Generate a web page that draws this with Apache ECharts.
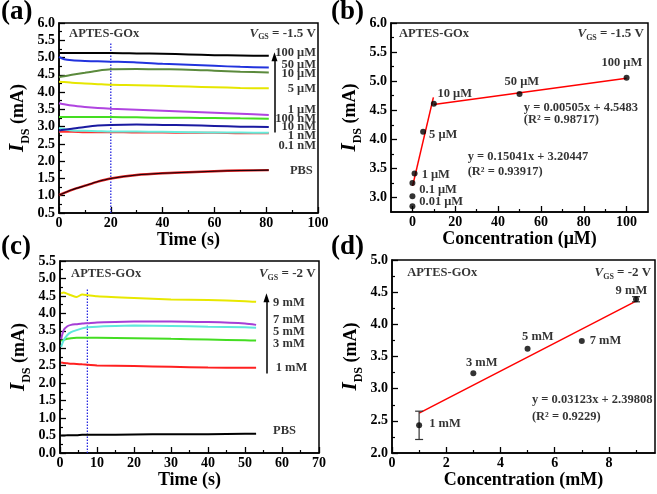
<!DOCTYPE html>
<html><head><meta charset="utf-8">
<script src="https://cdn.jsdelivr.net/npm/echarts@6/dist/echarts.min.js"></script>
<style>html,body{margin:0;padding:0;background:#fff}#c{width:657px;height:494px}</style>
</head><body><div id="c"></div>
<script>
// ================= DATA =================
// Panel (a): IDS vs time, VGS = -1.5 V
const aTime   = [0, 2, 5, 10, 15, 20, 30, 40, 50, 60, 70, 81];
const a100uM  = [5.13,5.13,5.13,5.13,5.13,5.13,5.12,5.11,5.09,5.07,5.06,5.05];
const a50uM   = [5.02,4.95,4.92,4.90,4.89,4.88,4.86,4.82,4.79,4.76,4.73,4.71];
const a10uM   = [4.44,4.46,4.50,4.56,4.62,4.66,4.67,4.66,4.65,4.62,4.59,4.57];
const a5uM    = [4.30,4.29,4.27,4.25,4.23,4.21,4.20,4.18,4.16,4.14,4.12,4.11];
const a1uM    = [3.68,3.65,3.61,3.57,3.54,3.52,3.49,3.46,3.43,3.40,3.37,3.34];
const a100nM  = [3.28,3.28,3.28,3.28,3.28,3.28,3.27,3.26,3.26,3.25,3.24,3.23];
const a10nM   = [2.89,2.91,2.94,2.99,3.03,3.05,3.06,3.05,3.04,3.02,3.00,2.99];
const a1nM    = [2.96,2.93,2.89,2.88,2.87,2.86,2.86,2.85,2.84,2.83,2.83,2.82];
const a01nM   = [2.85,2.85,2.85,2.84,2.84,2.84,2.83,2.83,2.82,2.82,2.81,2.81];
const aPBS    = [1.02,1.08,1.17,1.29,1.41,1.50,1.60,1.65,1.68,1.71,1.73,1.74];
const aMarkT  = [20, 20];          // dotted marker line (time)
const aMarkI  = [0.5, 5.43];
const aArrowT = 83.2;
const aArrowI = [2.83, 5.02];
const aLabelText = ['100 μM','50 μM','10 μM','5 μM','1 μM','100 nM','10 nM','1 nM','0.1 nM','PBS'];
const aLabelI    = [5.13, 4.80, 4.52, 4.10, 3.50, 3.24, 3.01, 2.75, 2.46, 1.71];

// Panel (b): IDS vs concentration (μM)
const bConc = [0, 0, 0, 1, 5, 10, 50, 100];
const bIds  = [2.85, 3.02, 3.25, 3.41, 4.13, 4.61, 4.78, 5.06];
const bFit1 = [[0.1, 3.20], [9.8, 4.72]];
const bFit2 = [[10, 4.60], [100, 5.05]];

// Panel (c): IDS vs time, VGS = -2 V
const cTime  = [0.3, 1, 2, 3, 4.5, 6, 7.5, 10, 20, 30, 40, 50, 53];
const c9mM   = [4.57,4.60,4.56,4.52,4.47,4.54,4.52,4.49,4.44,4.40,4.38,4.35,4.33];
const c7mM   = [3.26,3.52,3.63,3.67,3.69,3.71,3.72,3.74,3.77,3.77,3.75,3.71,3.67];
const c5mM   = [3.04,3.23,3.38,3.46,3.52,3.57,3.60,3.62,3.65,3.64,3.62,3.60,3.59];
const c3mM   = [3.21,3.24,3.27,3.29,3.30,3.30,3.30,3.30,3.29,3.27,3.25,3.23,3.22];
const c1mM   = [2.59,2.58,2.57,2.56,2.55,2.54,2.53,2.51,2.49,2.47,2.45,2.44,2.44];
const cPBS   = [0.50,0.50,0.51,0.51,0.51,0.52,0.52,0.52,0.53,0.54,0.54,0.55,0.55];
const cMarkT = [7.4, 7.4];
const cMarkI = [0.0, 4.69];
const cArrowT = 55.8;
const cArrowI = [2.28, 4.45];
const cLabelText = ['9 mM','7 mM','5 mM','3 mM','1 mM','PBS'];
const cLabelI    = [4.31, 3.81, 3.47, 3.14, 2.43, 0.64];

// Panel (d): IDS vs concentration (mM)
const dConc   = [1, 3, 5, 7, 9];
const dIds    = [2.43, 3.24, 3.62, 3.74, 4.39];
const dErrLo  = [2.21, null, null, null, 4.35];
const dErrHi  = [2.65, null, null, null, 4.43];
const dFit    = [[1, 2.62], [9, 4.36]];

// Tick values
const aXTicks = [0,20,40,60,80,100],  aXMinor = [10,30,50,70,90];
const aYTicks = [0.5,1.0,1.5,2.0,2.5,3.0,3.5,4.0,4.5,5.0,5.5,6.0];
const aYMinor = [0.75,1.25,1.75,2.25,2.75,3.25,3.75,4.25,4.75,5.25,5.75];
const bXTicks = [0,20,40,60,80,100],  bXMinor = [10,30,50,70,90];
const bYTicks = [3.0,3.5,4.0,4.5,5.0,5.5,6.0];
const bYMinor = [3.25,3.75,4.25,4.75,5.25,5.75];
const cXTicks = [0,10,20,30,40,50,60,70], cXMinor = [5,15,25,35,45,55,65];
const cYTicks = [0.0,0.5,1.0,1.5,2.0,2.5,3.0,3.5,4.0,4.5,5.0,5.5];
const cYMinor = [0.25,0.75,1.25,1.75,2.25,2.75,3.25,3.75,4.25,4.75,5.25];
const dXTicks = [0,2,4,6,8], dXMinor = [1,3,5,7,9];
const dYTicks = [2.0,2.5,3.0,3.5,4.0,4.5,5.0];
const dYMinor = [2.25,2.75,3.25,3.75,4.25,4.75];

// ================= CHART =================
const FF = '"Liberation Serif","Times New Roman",serif';
const zip = (xs, ys) => xs.map((x, i) => [x, ys[i]]);
const oneDec = v => Number(v).toFixed(1);
const intFmt = v => String(Math.round(v));

const nameRich = {
  i: {fontFamily: FF, fontWeight: 'bold', fontStyle: 'italic', fontSize: 21, lineHeight: 28, color: '#000'},
  s: {fontFamily: FF, fontWeight: 'bold', fontSize: 12, lineHeight: 13, verticalAlign: 'bottom', color: '#000'},
  n: {fontFamily: FF, fontWeight: 'bold', fontSize: 18, lineHeight: 28, color: '#000'}
};
const textRich = {
  vi: {fontFamily: FF, fontWeight: 'bold', fontStyle: 'italic', fontSize: 13, lineHeight: 16, color: '#000'},
  vs: {fontFamily: FF, fontWeight: 'bold', fontSize: 8, lineHeight: 9, verticalAlign: 'bottom', color: '#000'},
  vt: {fontFamily: FF, fontWeight: 'bold', fontSize: 13, lineHeight: 16, color: '#000'}
};

const grids = [
  {left: 59, top: 23, width: 259, height: 190},
  {left: 391, top: 23, width: 257, height: 189},
  {left: 60, top: 261, width: 259, height: 192},
  {left: 392, top: 260, width: 263, height: 193}
];
const axSpec = [
  {x: {min: 0, max: 100, t: aXTicks, m: aXMinor, f: intFmt, name: 'Time (s)'},
   y: {min: 0.5, max: 6.0, t: aYTicks, m: aYMinor, f: oneDec}},
  {x: {min: -10, max: 110, t: bXTicks, m: bXMinor, f: intFmt, name: 'Concentration (μM)'},
   y: {min: 2.75, max: 6.0, t: bYTicks, m: bYMinor, f: oneDec}},
  {x: {min: 0, max: 70, t: cXTicks, m: cXMinor, f: intFmt, name: 'Time (s)'},
   y: {min: 0, max: 5.5, t: cYTicks, m: cYMinor, f: oneDec}},
  {x: {min: 0, max: 9.7, t: dXTicks, m: dXMinor, f: intFmt, name: 'Concentration (mM)'},
   y: {min: 2.0, max: 5.0, t: dYTicks, m: dYMinor, f: oneDec}}
];

const xAxes = [], yAxes = [];
axSpec.forEach((p, g) => {
  ['x', 'y'].forEach(d => {
    const s = p[d];
    const major = {
      type: 'value', gridIndex: g, min: s.min, max: s.max,
      position: d === 'x' ? 'bottom' : 'left',
      axisLine: {show: true, onZero: false, lineStyle: {color: '#000', width: 1.5}},
      axisTick: {show: true, inside: true, length: 6, customValues: s.t, lineStyle: {color: '#000', width: 1.3}},
      axisLabel: {show: true, customValues: s.t, formatter: s.f, margin: d === 'x' ? 3 : 4,
        fontFamily: FF, fontWeight: 'bold', fontSize: 14, color: '#000'},
      splitLine: {show: false}
    };
    if (d === 'x') {
      major.name = s.name; major.nameLocation = 'middle'; major.nameGap = 17;
      major.nameTextStyle = {fontFamily: FF, fontWeight: 'bold', fontSize: 18, color: '#000'};
    } else {
      major.name = '{i|I}{s|DS}{n| (mA)}'; major.nameLocation = 'middle'; major.nameGap = 27;
      major.nameTextStyle = {rich: nameRich};
    }
    const minor = {
      type: 'value', gridIndex: g, min: s.min, max: s.max,
      position: d === 'x' ? 'bottom' : 'left',
      axisLine: {show: false, onZero: false},
      axisTick: {show: true, inside: true, length: 3, customValues: s.m, lineStyle: {color: '#000', width: 1.2}},
      axisLabel: {show: false},
      splitLine: {show: false}
    };
    (d === 'x' ? xAxes : yAxes).push(major, minor);
  });
});

const series = [];
function line(g, data, color, width) {
  series.push({type: 'line', xAxisIndex: 2 * g, yAxisIndex: 2 * g, data, symbol: 'none',
    smooth: 0.25, lineStyle: {color, width: width || 2}, silent: true, animation: false});
}
function dotted(g, xs, ys) {
  series.push({type: 'line', xAxisIndex: 2 * g, yAxisIndex: 2 * g, data: zip(xs, ys), symbol: 'none',
    lineStyle: {color: '#2626e0', width: 1.3, type: [1.5, 1.5]}, silent: true, animation: false});
}
function arrow(g, x, ys) {
  series.push({type: 'line', xAxisIndex: 2 * g, yAxisIndex: 2 * g, data: [], silent: true, animation: false,
    markLine: {silent: true, animation: false, symbol: ['none', 'triangle'], symbolSize: [6, 9],
      label: {show: false}, lineStyle: {color: '#000', width: 1.5, type: 'solid'},
      data: [[{coord: [x, ys[0]]}, {coord: [x, ys[1]]}]]}});
}
function texts(g, items, align) {
  series.push({type: 'scatter', xAxisIndex: 2 * g, yAxisIndex: 2 * g, symbolSize: 0.1, silent: true, animation: false,
    itemStyle: {color: 'transparent'},
    label: {show: true, position: 'inside', align: align, verticalAlign: 'middle', formatter: '{b}',
      fontFamily: FF, fontWeight: 'bold', fontSize: 12.5, color: '#000', rich: textRich},
    data: items.map(it => ({name: it[0], value: [it[1], it[2]]}))});
}
function points(g, xs, ys) {
  series.push({type: 'scatter', xAxisIndex: 2 * g, yAxisIndex: 2 * g, data: zip(xs, ys), symbol: 'circle',
    symbolSize: 6, itemStyle: {color: '#000'}, silent: true, animation: false, z: 5});
}

// ---- (a)
dotted(0, aMarkT, aMarkI);
line(0, zip(aTime, aPBS), '#e02020', 2.4);
line(0, zip(aTime, aPBS), '#1a0008', 1.1);
line(0, zip(aTime, a01nM), '#ff3030');
line(0, zip(aTime, a1nM), '#66eedd');
line(0, zip(aTime, a10nM), '#1a1aa0');
line(0, zip(aTime, a100nM), '#44dd22');
line(0, zip(aTime, a1uM), '#b044e0');
line(0, zip(aTime, a5uM), '#e6e600');
line(0, zip(aTime, a10uM), '#5b8a3c');
line(0, zip(aTime, a50uM), '#2233dd');
line(0, zip(aTime, a100uM), '#000000');
arrow(0, aArrowT, aArrowI);
texts(0, aLabelText.map((t, i) => [t, t === 'PBS' ? 98 : 99.2, aLabelI[i]]), 'right');
texts(0, [['APTES-GOx', 3.9, 5.70]], 'left');
texts(0, [['{vi|V}{vs|GS}{vt| = -1.5 V}', 99.2, 5.70]], 'right');

// ---- (b)
line(1, bFit1, '#ff0000', 1.5);
line(1, bFit2, '#ff0000', 1.5);
points(1, bConc, bIds);
texts(1, [['APTES-GOx', -6.3, 5.81], ['10 μM', 11.7, 4.79], ['5 μM', 7.8, 4.07], ['1 μM', 4.3, 3.39],
  ['0.1 μM', 3.2, 3.14], ['0.01 μM', 3.2, 2.93], ['y = 0.00505x + 4.5483', 52.0, 4.54],
  ['(R² = 0.98717)', 52.0, 4.33], ['y = 0.15041x + 3.20447', 25.8, 3.70], ['(R² = 0.93917)', 25.8, 3.44]], 'left');
texts(1, [['100 μM', 97.8, 5.31], ['50 μM', 51.1, 4.99]], 'center');
texts(1, [['{vi|V}{vs|GS}{vt| = -1.5 V}', 108.1, 5.81]], 'right');

// ---- (c)
dotted(2, cMarkT, cMarkI);
line(2, zip(cTime, cPBS), '#000000');
line(2, zip(cTime, c1mM), '#ff2020');
line(2, zip(cTime, c3mM), '#44dd22');
line(2, zip(cTime, c5mM), '#5fe8dc');
line(2, zip(cTime, c7mM), '#a63fd6');
line(2, zip(cTime, c9mM), '#e8e800');
arrow(2, cArrowT, cArrowI);
texts(2, cLabelText.map((t, i) => [t, t === '1 mM' ? 58.3 : 57.6, cLabelI[i]]), 'left');
texts(2, [['APTES-GOx', 3.0, 5.14]], 'left');
texts(2, [['{vi|V}{vs|GS}{vt| = -2 V}', 69.1, 5.14]], 'right');

// ---- (d)
series.push({type: 'custom', xAxisIndex: 6, yAxisIndex: 6, silent: true, animation: false, z: 4,
  data: dConc.map((x, i) => [x, dErrLo[i], dErrHi[i]]).filter(r => r[1] !== null),
  encode: {x: 0, y: [1, 2]},
  renderItem: (params, api) => {
    const x = api.value(0);
    const p1 = api.coord([x, api.value(1)]), p2 = api.coord([x, api.value(2)]);
    const st = {stroke: '#333', lineWidth: 1.2};
    const w = 4;
    return {type: 'group', children: [
      {type: 'line', shape: {x1: p1[0], y1: p1[1], x2: p2[0], y2: p2[1]}, style: st},
      {type: 'line', shape: {x1: p1[0] - w, y1: p1[1], x2: p1[0] + w, y2: p1[1]}, style: st},
      {type: 'line', shape: {x1: p2[0] - w, y1: p2[1], x2: p2[0] + w, y2: p2[1]}, style: st}
    ]};
  }});
line(3, dFit, '#ff0000', 1.5);
points(3, dConc, dIds);
texts(3, [['APTES-GOx', 0.56, 4.80], ['7 mM', 7.29, 3.74], ['1 mM', 1.37, 2.45],
  ['y = 0.03123x + 2.39808', 5.16, 2.82], ['(R² = 0.9229)', 5.16, 2.57]], 'left');
texts(3, [['9 mM', 8.83, 4.52], ['5 mM', 5.38, 3.81], ['3 mM', 3.31, 3.41]], 'center');
texts(3, [['{vi|V}{vs|GS}{vt| = -2 V}', 9.56, 4.80]], 'right');

const titleStyle = {fontFamily: FF, fontWeight: 'bold', fontSize: 27, color: '#000'};
const option = {
  backgroundColor: '#fff',
  animation: false,
  title: [
    {text: '(a)', left: 1, top: -1, padding: 0, textStyle: titleStyle},
    {text: '(b)', left: 331, top: -1, padding: 0, textStyle: titleStyle},
    {text: '(c)', left: 1, top: 234, padding: 0, textStyle: titleStyle},
    {text: '(d)', left: 331, top: 234, padding: 0, textStyle: titleStyle}
  ],
  grid: grids.map(g => Object.assign({show: true, borderColor: '#000', borderWidth: 1.5, backgroundColor: 'transparent', containLabel: false}, g)),
  xAxis: xAxes,
  yAxis: yAxes,
  series
};
const chart = echarts.init(document.getElementById('c'), null, {renderer: 'canvas'});
chart.setOption(option);
</script></body></html>
